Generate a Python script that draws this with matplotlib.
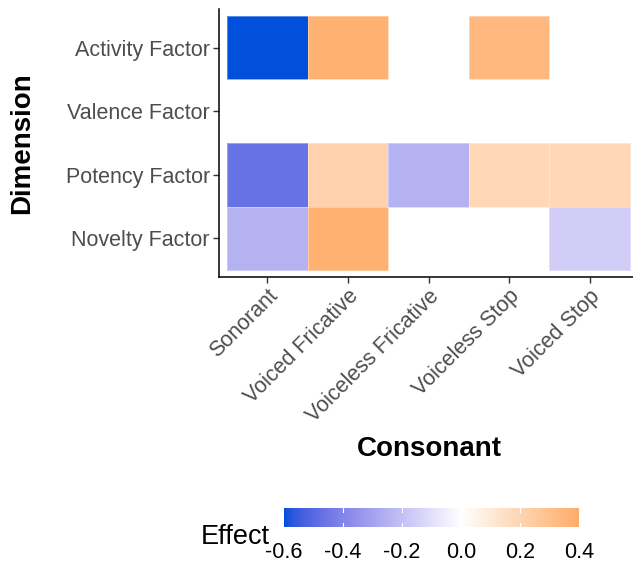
import numpy as np
import matplotlib
matplotlib.use("Agg")
import matplotlib.pyplot as plt
from matplotlib.colors import ListedColormap, TwoSlopeNorm

consonants = ["Sonorant", "Voiced Fricative", "Voiceless Fricative", "Voiceless Stop", "Voiced Stop"]
dimensions = ["Activity Factor", "Valence Factor", "Potency Factor", "Novelty Factor"]
activity = [-0.60, 0.38, np.nan, 0.34, np.nan]
valence = [np.nan, np.nan, np.nan, np.nan, np.nan]
potency = [-0.47, 0.22, -0.25, 0.19, 0.19]
novelty = [-0.25, 0.38, np.nan, np.nan, -0.16]
legend_ticks = [-0.6, -0.4, -0.2, 0.0, 0.2, 0.4]

values = np.array([activity, valence, potency, novelty], dtype=float)

# Lab interpolation helpers (mimic ggplot gradient2)
def srgb_to_lab(rgb):
    rgb = np.asarray(rgb, float)
    lin = np.where(rgb <= 0.04045, rgb / 12.92, ((rgb + 0.055) / 1.055) ** 2.4)
    M = np.array([[0.4124, 0.3576, 0.1805], [0.2126, 0.7152, 0.0722], [0.0193, 0.1192, 0.9505]])
    xyz = lin @ M.T
    xyz = xyz / np.array([0.95047, 1.0, 1.08883])
    f = np.where(xyz > 0.008856, np.cbrt(xyz), 7.787 * xyz + 16 / 116)
    L = 116 * f[..., 1] - 16
    a = 500 * (f[..., 0] - f[..., 1])
    b = 200 * (f[..., 1] - f[..., 2])
    return np.stack([L, a, b], -1)

def lab_to_srgb(lab):
    L, a, b = lab[..., 0], lab[..., 1], lab[..., 2]
    fy = (L + 16) / 116
    fx = fy + a / 500
    fz = fy - b / 200
    f = np.stack([fx, fy, fz], -1)
    xyz = np.where(f ** 3 > 0.008856, f ** 3, (f - 16 / 116) / 7.787)
    xyz = xyz * np.array([0.95047, 1.0, 1.08883])
    Minv = np.array([[3.2406, -1.5372, -0.4986], [-0.9689, 1.8758, 0.0415], [0.0557, -0.2040, 1.0570]])
    lin = xyz @ Minv.T
    lin = np.clip(lin, 0, 1)
    rgb = np.where(lin <= 0.0031308, 12.92 * lin, 1.055 * lin ** (1 / 2.4) - 0.055)
    return np.clip(rgb, 0, 1)

def hex2rgb(h):
    h = h.lstrip("#")
    return np.array([int(h[i:i + 2], 16) / 255 for i in (0, 2, 4)])

low = srgb_to_lab(hex2rgb("#0050DC"))
mid = srgb_to_lab(hex2rgb("#FFFFFF"))
high = srgb_to_lab(hex2rgb("#FFAD6A"))
n = 256
t = np.linspace(0, 1, n)[:, None]
lab1 = low + (mid - low) * t
lab2 = mid + (high - mid) * t
cols = np.vstack([lab_to_srgb(lab1), lab_to_srgb(lab2[1:])])
cmap = ListedColormap(cols)
cmap.set_bad((1, 1, 1, 0))
norm = TwoSlopeNorm(vmin=-0.6, vcenter=0.0, vmax=0.4)

fig = plt.figure(figsize=(6.33, 5.62), dpi=100)
W, H = 633, 562
ax = fig.add_axes([219 / W, 1 - 276.5 / H, (638 - 219) / W, (276.5 - 9.5) / H])

masked = np.ma.masked_invalid(values)
xe = np.arange(len(consonants) + 1) - 0.5
ye = np.arange(len(dimensions) + 1) - 0.5
mesh = ax.pcolormesh(xe, ye, masked, cmap=cmap, norm=norm, edgecolors=(1, 1, 1, 0.35), linewidth=0.6)
ax.set_xlim(-0.6, len(consonants) - 0.4)
ax.set_ylim(len(dimensions) - 0.4, -0.6)

for s in ["top", "right"]:
    ax.spines[s].set_visible(False)
for s in ["left", "bottom"]:
    ax.spines[s].set_linewidth(1.1)
    ax.spines[s].set_color("black")

font = "Liberation Sans"
ax.set_xticks(range(len(consonants)))
ax.set_xticklabels(consonants, rotation=45, ha="right", va="top", rotation_mode="anchor",
                   fontsize=15.5, color="#4D4D4D", family=font)
ax.set_yticks(range(len(dimensions)))
ax.set_yticklabels(dimensions, fontsize=15.5, color="#4D4D4D", family=font)
ax.tick_params(axis="both", length=4, width=1, color="#333333", pad=2.5)
ax.set_xlabel("Consonant", fontsize=20, fontweight="bold", family=font, labelpad=0)
ax.xaxis.set_label_coords((429 - 219) / (638 - 219), -(436 - 276.5) / (276.5 - 9.5))
ax.set_ylabel("Dimension", fontsize=20, fontweight="bold", family=font)
ax.yaxis.set_label_coords(-(219 - 35) / (638 - 219), (276.5 - 143.5) / (276.5 - 9.5))

cax = fig.add_axes([284 / W, 1 - 527 / H, (579 - 284) / W, (527 - 508) / H])
grad = np.linspace(-0.6, 0.4, 300)[None, :]
cax.imshow(grad, aspect="auto", cmap=cmap, norm=norm, extent=[-0.6, 0.4, 0, 1])
cax.set_xlim(-0.6, 0.4)
cax.set_yticks([])
cax.set_xticks(legend_ticks)
cax.set_xticklabels([f"{v:.1f}" for v in legend_ticks], fontsize=15.5, family=font, color="black")
cax.tick_params(axis="x", length=0, pad=10.5)
for v in legend_ticks[1:-1]:
    cax.plot([v, v], [0, 0.2], color="white", lw=0.8)
    cax.plot([v, v], [0.8, 1], color="white", lw=0.8)
for s in cax.spines.values():
    s.set_visible(False)
fig.text(201 / W, 1 - 537 / H, "Effect", fontsize=19.5, family=font, va="center", ha="left")

fig.savefig("out.png", dpi=100)
